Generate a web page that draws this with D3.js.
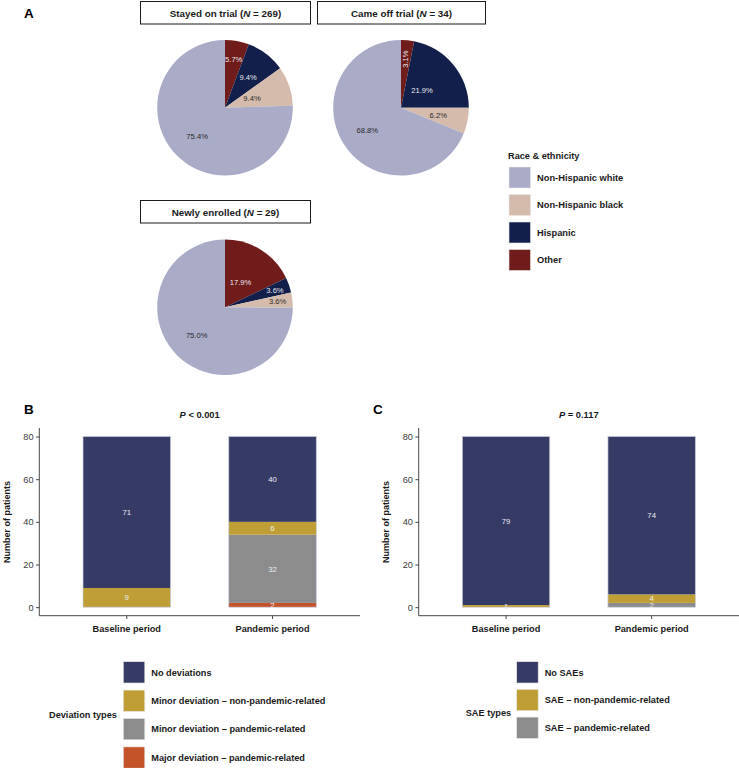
<!DOCTYPE html>
<html>
<head>
<meta charset="utf-8">
<script src="https://cdn.jsdelivr.net/npm/d3@7"></script>
<style>
  html, body { margin: 0; padding: 0; background: #fff; }
  svg { display: block; font-family: "Liberation Sans", Arial, Helvetica, sans-serif; }
</style>
</head>
<body>
<svg id="chart" width="739" height="768"></svg>
<script>
// ---------------- DATA ----------------
const raceCategories = ["Non-Hispanic white", "Non-Hispanic black", "Hispanic", "Other"];
const pieGroups = ["Stayed on trial", "Came off trial", "Newly enrolled"];
const pieN = [269, 34, 29];
// percentages in the order of raceCategories
const stayedPct = [75.4, 9.4, 9.4, 5.7];
const cameOffPct = [68.8, 6.2, 21.9, 3.1];
const newlyPct = [75.0, 3.6, 3.6, 17.9];

const periods = ["Baseline period", "Pandemic period"];
const deviationTypes = ["No deviations", "Minor deviation \u2013 non-pandemic-related",
  "Minor deviation \u2013 pandemic-related", "Major deviation \u2013 pandemic-related"];
const noDeviations = [71, 40];
const minorNonPandemic = [9, 6];
const minorPandemic = [0, 32];
const majorPandemic = [0, 2];
const pValueB = "< 0.001";

const saeTypes = ["No SAEs", "SAE \u2013 non-pandemic-related", "SAE \u2013 pandemic-related"];
const noSAEs = [79, 74];
const saeNonPandemic = [1, 4];
const saePandemic = [0, 2];
const pValueC = "= 0.117";

const yTicks = [0, 20, 40, 60, 80];

// ---------------- STYLE / LAYOUT ----------------
const raceColors = ["#A9ABC7", "#D5BBAC", "#121F4B", "#701C1A"];
const raceLabelColors = ["#2a2a2a", "#2a2a2a", "#e8e8ee", "#e8e8ee"];
const devColors = ["#363B66", "#BF9F35", "#8C8C8C", "#C4532A"];
const saeColors = ["#363B66", "#BF9F35", "#8C8C8C"];
// label radius (fraction of pie radius) per pie, in raceCategories order
const pieLabelR = [
  [0.59, 0.42, 0.56, 0.72],
  [0.60, 0.56, 0.40, 0.72],
  [0.59, 0.78, 0.78, 0.43]
];
const pieLabelRotate = [[0, 0, 0, 0], [0, 0, 0, -90], [0, 0, 0, 0]];
const pieLayout = [
  { cx: 225, cy: 107.7, stripX: 140, stripY: 1, stripW: 170 },
  { cx: 401, cy: 107.7, stripX: 317, stripY: 1, stripW: 168 },
  { cx: 225, cy: 307.3, stripX: 140, stripY: 200, stripW: 170 }
];
const pieRadius = 67.8;
const font = '"Liberation Sans", Arial, Helvetica, sans-serif';

const svg = d3.select("#chart");

// ---------------- PANEL A ----------------
svg.append("text").attr("x", 24).attr("y", 18)
  .attr("font-size", 13.5).attr("font-weight", "bold").text("A");

const pieSeries = [stayedPct, cameOffPct, newlyPct];
// slices start at 12 o'clock clockwise: Other, Hispanic, Black, White
const pieOrder = [3, 2, 1, 0];
const arc = d3.arc().innerRadius(0).outerRadius(pieRadius);

pieSeries.forEach((vals, gi) => {
  const L = pieLayout[gi];
  const g = svg.append("g");
  // strip
  g.append("rect").attr("x", L.stripX + 0.5).attr("y", L.stripY + 0.5)
    .attr("width", L.stripW).attr("height", 22.5)
    .attr("fill", "#fff").attr("stroke", "#1a1a1a").attr("stroke-width", 1);
  const st = g.append("text").attr("x", L.stripX + L.stripW / 2 + 0.5).attr("y", L.stripY + 15.5)
    .attr("text-anchor", "middle").attr("font-size", 9.8).attr("font-weight", "bold").attr("fill", "#1a1a1a");
  st.append("tspan").text(pieGroups[gi] + " (");
  st.append("tspan").attr("font-style", "italic").text("N");
  st.append("tspan").text(" = " + pieN[gi] + ")");

  const pie = d3.pie().sort(null).value(i => vals[i]);
  const arcs = pie(pieOrder);
  const pg = g.append("g").attr("transform", `translate(${L.cx},${L.cy})`);
  pg.selectAll("path").data(arcs).join("path")
    .attr("d", arc).attr("fill", d => raceColors[d.data]);
  pg.selectAll("text").data(arcs).join("text")
    .attr("transform", d => {
      const a = (d.startAngle + d.endAngle) / 2;
      const r = pieRadius * pieLabelR[gi][d.data];
      const x = r * Math.sin(a), y = -r * Math.cos(a);
      return `translate(${x},${y}) rotate(${pieLabelRotate[gi][d.data]})`;
    })
    .attr("text-anchor", "middle").attr("dy", "0.35em")
    .attr("font-size", 7.6).attr("fill", d => raceLabelColors[d.data])
    .text(d => vals[d.data].toFixed(1) + "%");
});

// legend A
const legA = svg.append("g");
legA.append("text").attr("x", 508).attr("y", 159).attr("font-size", 9.2)
  .attr("font-weight", "bold").attr("fill", "#1a1a1a").text("Race & ethnicity");
raceCategories.forEach((c, i) => {
  const y = 167 + i * 27.5;
  legA.append("rect").attr("x", 509).attr("y", y).attr("width", 21.5).attr("height", 21)
    .attr("fill", raceColors[i]).attr("stroke", "#e6e6e6").attr("stroke-width", 0.6);
  legA.append("text").attr("x", 537).attr("y", y + 10.5).attr("dy", "0.35em")
    .attr("font-size", 9.3).attr("font-weight", "bold").attr("fill", "#1a1a1a").text(c);
});

// ---------------- BAR PANELS ----------------
function barPanel(opts) {
  const { x0, x1, letterX, titleP, keys, series, colors, ylabelX } = opts;
  const g = svg.append("g");
  const x = d3.scaleBand().domain(periods).range([x0, x1]).paddingInner(0.4).paddingOuter(0.3);
  const y = d3.scaleLinear().domain([-4, 84]).range([615.7, 428]);

  g.append("text").attr("x", letterX).attr("y", 414).attr("font-size", 13.5)
    .attr("font-weight", "bold").text(opts.letter);
  const t = g.append("text").attr("x", (x0 + x1) / 2).attr("y", 417.5).attr("text-anchor", "middle")
    .attr("font-size", 9.3).attr("font-weight", "bold").attr("fill", "#1a1a1a");
  t.append("tspan").attr("font-style", "italic").text("P");
  t.append("tspan").text(" " + titleP);

  // stacked data
  const rows = periods.map((p, i) => {
    const r = { period: p };
    keys.forEach((k, j) => r[k] = series[j][i]);
    return r;
  });
  const stackKeys = keys.slice().reverse();
  const stacked = d3.stack().keys(stackKeys)(rows);

  stacked.forEach(layer => {
    const ci = keys.indexOf(layer.key);
    g.append("g").selectAll("rect").data(layer.filter(d => d[1] - d[0] > 0)).join("rect")
      .attr("x", d => x(d.data.period)).attr("width", x.bandwidth())
      .attr("y", d => y(d[1])).attr("height", d => y(d[0]) - y(d[1]))
      .attr("fill", colors[ci]);
  });
  // outline of each full bar
  const top = stacked[stacked.length - 1];
  g.append("g").selectAll("rect").data(top).join("rect")
    .attr("x", d => x(d.data.period)).attr("width", x.bandwidth())
    .attr("y", d => y(d[1])).attr("height", d => y(0) - y(d[1]))
    .attr("fill", "none").attr("stroke", "#c3c5d6").attr("stroke-width", 0.7);
  stacked.forEach(layer => {
    g.append("g").selectAll("text").data(layer.filter(d => d[1] - d[0] > 0)).join("text")
      .attr("x", d => x(d.data.period) + x.bandwidth() / 2)
      .attr("y", d => y((d[0] + d[1]) / 2)).attr("dy", "0.35em")
      .attr("text-anchor", "middle").attr("font-size", 7.8).attr("fill", "#ececf2")
      .text(d => d[1] - d[0]);
  });

  // axes
  const ya = g.append("g").attr("transform", `translate(${x0},0)`)
    .call(d3.axisLeft(y).tickValues(yTicks).tickSize(3.3).tickPadding(2.5));
  ya.select(".domain").attr("d", `M0,${y.range()[0]}V${y.range()[1]}`).attr("stroke", "#333").attr("stroke-width", 0.9);
  ya.selectAll(".tick line").attr("stroke", "#333").attr("stroke-width", 0.9);
  ya.selectAll(".tick text").attr("font-size", 9.2).attr("fill", "#3a3a3a").attr("font-family", font);

  const xa = g.append("g").attr("transform", "translate(0,615.7)")
    .call(d3.axisBottom(x).tickSize(3.3).tickPadding(6));
  xa.select(".domain").attr("d", `M${x0},0H${x1}`).attr("stroke", "#333").attr("stroke-width", 0.9);
  xa.selectAll(".tick line").attr("stroke", "#333").attr("stroke-width", 0.9);
  xa.selectAll(".tick text").attr("font-size", 9.2).attr("font-weight", "bold")
    .attr("fill", "#1a1a1a").attr("font-family", font);

  g.append("text").attr("transform", `translate(${ylabelX},522) rotate(-90)`)
    .attr("text-anchor", "middle").attr("dy", "0.35em").attr("font-size", 9)
    .attr("font-weight", "bold").attr("fill", "#1a1a1a").text("Number of patients");

  // legend
  const lg = svg.append("g");
  lg.append("text").attr("x", opts.legTitleX).attr("y", opts.legTitleY).attr("dy", "0.35em")
    .attr("font-size", 9.2).attr("font-weight", "bold").attr("fill", "#1a1a1a").text(opts.legTitle);
  keys.forEach((k, i) => {
    const yy = 661.7 + i * opts.legStep;
    lg.append("rect").attr("x", opts.legKeyX).attr("y", yy).attr("width", 21.5).attr("height", 21.3)
      .attr("fill", colors[i]).attr("stroke", "#e6e6e6").attr("stroke-width", 0.6);
    lg.append("text").attr("x", opts.legKeyX + 28).attr("y", yy + 10.6).attr("dy", "0.35em")
      .attr("font-size", 9.2).attr("font-weight", "bold").attr("fill", "#1a1a1a").text(k);
  });
}

barPanel({
  letter: "B", letterX: 24, x0: 39.3, x1: 360, titleP: pValueB,
  keys: deviationTypes, series: [noDeviations, minorNonPandemic, minorPandemic, majorPandemic],
  colors: devColors, ylabelX: 6.5,
  legTitle: "Deviation types", legTitleX: 49, legTitleY: 714.5, legKeyX: 123.3, legStep: 28.4
});
barPanel({
  letter: "C", letterX: 373, x0: 418.7, x1: 739, titleP: pValueC,
  keys: saeTypes, series: [noSAEs, saeNonPandemic, saePandemic],
  colors: saeColors, ylabelX: 385.5,
  legTitle: "SAE types", legTitleX: 465.7, legTitleY: 712.3, legKeyX: 516.7, legStep: 27.7
});
</script>
</body>
</html>
